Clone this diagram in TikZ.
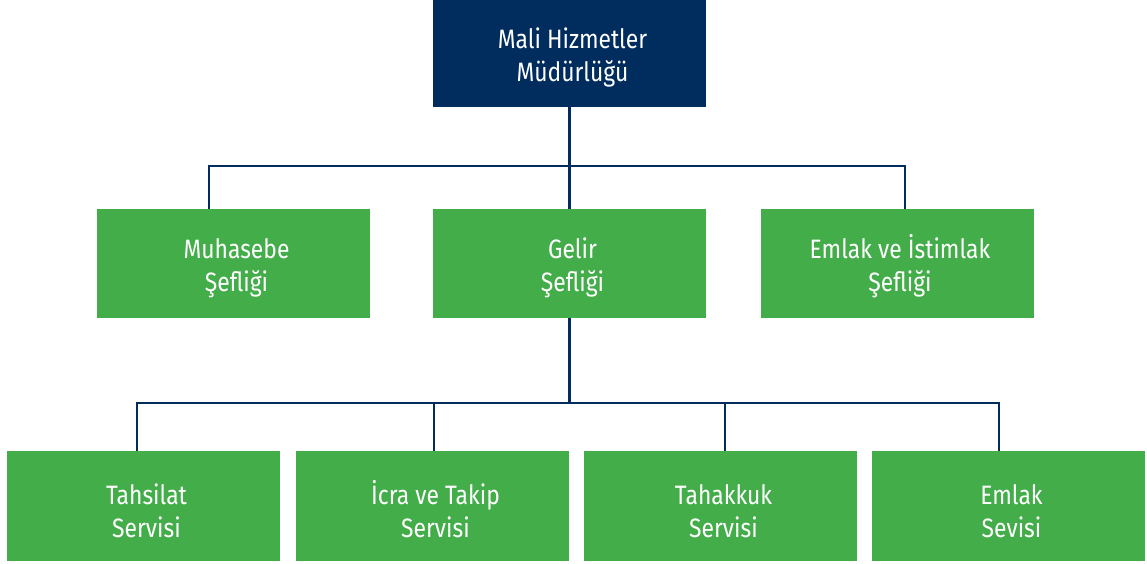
\documentclass[tikz,border=0pt]{standalone}
\usepackage{fontspec}
\setmainfont{Fira Sans}[FakeStretch=0.86]
\usetikzlibrary{calc}
\definecolor{navy}{HTML}{002D5E}
\definecolor{leaf}{HTML}{43AD4A}
% two centred lines; the first baseline sits #1 above the node centre
\newcommand\twoline[3]{\kern6pt\raisebox{#1}[0pt][0pt]{\begin{tabular}[t]{@{}c@{}}#2\\#3\end{tabular}}}
\tikzset{
  x=1pt, y=-1pt,
  unit/.style={rectangle, minimum width=273pt, inner sep=0pt, text=white,
    font=\fontsize{26.6}{33}\selectfont},
  headbox/.style={unit, fill=navy, minimum height=107pt},
  chiefbox/.style={unit, fill=leaf, minimum height=109pt},
  servbox/.style={unit, fill=leaf, minimum height=110pt},
  link/.style={draw=navy, line width=2.4pt}
}
\begin{document}
\begin{tikzpicture}
\useasboundingbox (0,0) rectangle (1147,564);

% directorate
\node[headbox] (mud) at (569.5,53.5) {\twoline{5.2pt}{Mali Hizmetler}{Müdürlüğü}};

% chief offices
\node[chiefbox] (muh) at (233.5,263.5) {\twoline{5pt}{Muhasebe}{Şefliği}};
\node[chiefbox] (gel) at (569.5,263.5) {\twoline{5pt}{Gelir}{Şefliği}};
\node[chiefbox] (eml) at (897,263.5) {\twoline{5pt}{Emlak ve İstimlak}{Şefliği}};

% services under the revenue office
\node[servbox] (tah) at (143.5,506) {\twoline{2pt}{Tahsilat}{Servisi}};
\node[servbox] (icr) at (432.5,506) {\twoline{2pt}{İcra ve Takip}{Servisi}};
\node[servbox] (thk) at (720.5,506) {\twoline{2pt}{Tahakkuk}{Servisi}};
\node[servbox] (ems) at (1008.5,506) {\twoline{2pt}{Emlak}{Sevisi}};

% bus lines
\coordinate (busA) at (569.5,166);
\coordinate (busB) at (569.5,403);

\draw[link] (mud.south) -- (busA);
\draw[link] (busA) -| ([xshift=-24.5pt]muh.north);
\draw[link] (busA) -| ([xshift=8pt]eml.north);
\draw[link] (busA) -- (gel.north);

\draw[link] (gel.south) -- (busB);
\draw[link] (busB) -| ([xshift=-6.5pt]tah.north);
\draw[link] (busB) -| ([xshift=1.5pt]icr.north);
\draw[link] (busB) -| ([xshift=4.5pt]thk.north);
\draw[link] (busB) -| ([xshift=-9.5pt]ems.north);
\end{tikzpicture}
\end{document}
